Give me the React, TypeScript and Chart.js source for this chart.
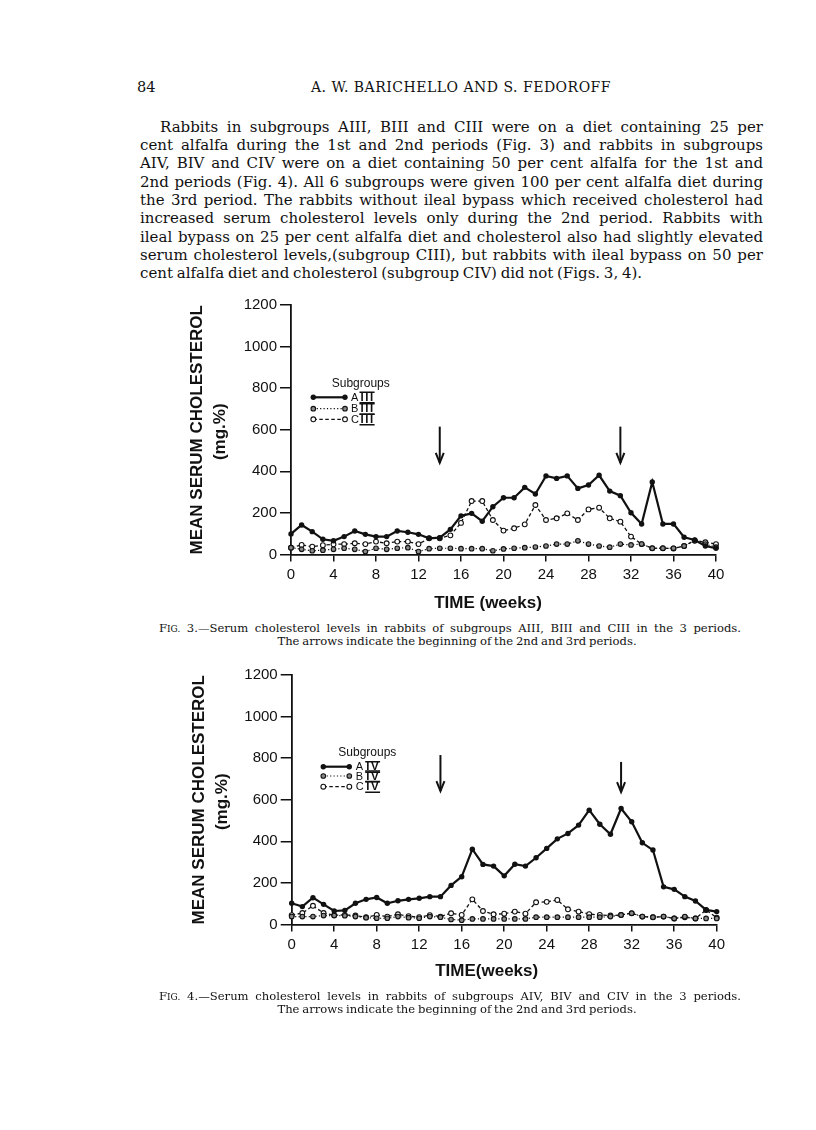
import React, { useEffect, useRef } from "react";
import { Chart, registerables } from "chart.js";

Chart.register(...registerables);

// ---------- DATA ----------
const weeks = [0, 1, 2, 3, 4, 5, 6, 7, 8, 9, 10, 11, 12, 13, 14, 15, 16, 17, 18, 19, 20, 21, 22, 23, 24, 25, 26, 27, 28, 29, 30, 31, 32, 33, 34, 35, 36, 37, 38, 39, 40];

const fig3A = [99, 142, 110, 73, 66, 86, 113, 97, 86, 86, 113, 107, 97, 78, 81, 121, 186, 198, 160, 230, 273, 273, 323, 291, 378, 366, 378, 318, 334, 381, 305, 283, 201, 147, 349, 147, 147, 83, 70, 41, 30];
const fig3B = [33, 25, 18, 21, 25, 30, 25, 14, 30, 25, 30, 33, 14, 28, 30, 30, 28, 28, 28, 18, 27, 30, 33, 36, 41, 50, 50, 66, 50, 41, 35, 50, 46, 50, 30, 30, 30, 41, 66, 50, 35];
const fig3C = [33, 46, 38, 45, 49, 50, 54, 50, 62, 54, 62, 62, 50, 78, 78, 92, 152, 257, 257, 166, 115, 126, 145, 238, 166, 174, 198, 166, 217, 225, 174, 158, 86, 50, 30, 30, 29, 41, 68, 59, 50];

const fig4A = [102, 86, 129, 97, 65, 68, 102, 121, 130, 102, 114, 121, 126, 134, 134, 188, 230, 362, 289, 281, 234, 290, 281, 321, 366, 412, 438, 478, 550, 482, 434, 558, 494, 393, 358, 181, 169, 134, 113, 70, 62];
const fig4B = [38, 38, 38, 43, 43, 42, 38, 33, 30, 30, 38, 33, 30, 38, 35, 24, 21, 27, 27, 27, 27, 27, 27, 35, 35, 35, 35, 35, 35, 35, 38, 46, 54, 38, 35, 38, 29, 38, 29, 29, 29];
const fig4C = [45, 55, 90, 55, 45, 46, 43, 35, 46, 38, 49, 40, 35, 45, 38, 54, 46, 121, 65, 49, 52, 62, 52, 107, 109, 118, 73, 62, 50, 46, 43, 46, 54, 38, 35, 38, 29, 35, 29, 70, 33];

const arrowWeeks = [14, 31];
const fig3ArrowTop = [615, 615];
const fig3ArrowBottom = [441, 441];
const fig4ArrowTop = [815, 782];
const fig4ArrowBottom = [642, 637];

const yMin = 0;
const yMax = 1200;
const yStep = 200;
const xMin = 0;
const xMax = 40;
const xStep = 4;

const seriesLetters = ["A", "B", "C"];

const paragraphLines = [
  "Rabbits in subgroups AIII, BIII and CIII were on a diet containing 25 per",
  "cent alfalfa during the 1st and 2nd periods (Fig. 3) and rabbits in subgroups",
  "AIV, BIV and CIV were on a diet containing 50 per cent alfalfa for the 1st and",
  "2nd periods (Fig. 4).   All 6 subgroups were given 100 per cent alfalfa diet during",
  "the 3rd period.   The rabbits without ileal bypass which received cholesterol had",
  "increased serum cholesterol levels only during the 2nd period.   Rabbits with",
  "ileal bypass on 25 per cent alfalfa diet and cholesterol also had slightly elevated",
  "serum cholesterol levels,(subgroup CIII), but rabbits with ileal bypass on 50 per",
  "cent alfalfa diet and cholesterol (subgroup CIV) did not (Figs. 3, 4).",
];

const SANS = '"Liberation Sans", Arial, sans-serif';
const SERIF = '"DejaVu Serif", serif';
const INK = "#111";

type Layout = {
  canvasLeft: number;
  canvasTop: number;
  width: number;
  height: number;
  areaLeft: number;
  areaRight: number;
  areaTop: number;
  areaBottom: number;
  yTitleDx: number;
  yUnitDx: number;
  xTitle: string;
  xTitleDx: number;
  xTitleDy: number;
  legend: {
    textDx: number;
    textDy: number;
    lineX1: number;
    lineX2: number;
    rowsDy: number[];
    letterDx: number;
    numeralDx: number;
  };
};

const styles = [
  { lw: 2.2, dash: [] as number[], r: 2.7, fill: INK, stroke: false },
  { lw: 1.2, dash: [1.2, 2.2], r: 2.3, fill: "#8a8a8a", stroke: true },
  { lw: 1.3, dash: [3.5, 2.5], r: 2.4, fill: "#fff", stroke: true },
];

function drawNumeral(ctx: CanvasRenderingContext2D, text: string, x: number, y: number) {
  ctx.save();
  ctx.font = `bold 11.5px ${SANS}`;
  (ctx as any).letterSpacing = "1.5px";
  ctx.textAlign = "left";
  ctx.textBaseline = "middle";
  ctx.fillStyle = INK;
  ctx.fillText(text, x, y + 0.5);
  const w = ctx.measureText(text).width;
  ctx.strokeStyle = INK;
  ctx.lineWidth = 1.6;
  ctx.beginPath();
  ctx.moveTo(x - 1, y - 5);
  ctx.lineTo(x + w, y - 5);
  ctx.moveTo(x - 1, y + 5.5);
  ctx.lineTo(x + w, y + 5.5);
  ctx.stroke();
  ctx.restore();
}

function makeDecor(layout: Layout, numeral: string, aTop: number[], aBottom: number[]) {
  return {
    id: "decor",
    afterDraw(chart: any) {
      const ctx: CanvasRenderingContext2D = chart.ctx;
      const ca = chart.chartArea;
      const xs = chart.scales.x;
      const ys = chart.scales.y;
      ctx.save();
      ctx.fillStyle = INK;
      ctx.strokeStyle = INK;

      // y-axis title
      const cy = (ca.top + ca.bottom) / 2;
      ctx.save();
      ctx.translate(ca.left + layout.yTitleDx, cy);
      ctx.rotate(-Math.PI / 2);
      ctx.font = `bold 17px ${SANS}`;
      ctx.textAlign = "center";
      ctx.textBaseline = "middle";
      ctx.fillText("MEAN SERUM CHOLESTEROL", 0, 0);
      ctx.restore();
      ctx.save();
      ctx.translate(ca.left + layout.yUnitDx, cy + 2);
      ctx.rotate(-Math.PI / 2);
      ctx.font = `bold 17px ${SANS}`;
      ctx.textAlign = "center";
      ctx.textBaseline = "middle";
      ctx.fillText("(mg.%)", 0, 0);
      ctx.restore();

      // x-axis title
      ctx.font = `bold 17px ${SANS}`;
      ctx.textAlign = "center";
      ctx.textBaseline = "middle";
      ctx.fillText(layout.xTitle, ca.left + layout.xTitleDx, ca.bottom + layout.xTitleDy);

      // arrows
      arrowWeeks.forEach((w, i) => {
        const x = xs.getPixelForValue(w);
        const y1 = ys.getPixelForValue(aTop[i]);
        const y2 = ys.getPixelForValue(aBottom[i]);
        ctx.lineWidth = 2;
        ctx.beginPath();
        ctx.moveTo(x, y1);
        ctx.lineTo(x, y2);
        ctx.stroke();
        ctx.beginPath();
        ctx.moveTo(x - 4, y2 - 10);
        ctx.lineTo(x, y2);
        ctx.lineTo(x + 4, y2 - 10);
        ctx.stroke();
      });

      // legend
      const lg = layout.legend;
      ctx.font = `12px ${SANS}`;
      ctx.textAlign = "left";
      ctx.textBaseline = "middle";
      ctx.fillText("Subgroups", ca.left + lg.textDx, ca.top + lg.textDy);
      seriesLetters.forEach((letter, i) => {
        const st = styles[i];
        const y = ca.top + lg.rowsDy[i];
        const x1 = ca.left + lg.lineX1;
        const x2 = ca.left + lg.lineX2;
        ctx.save();
        ctx.lineWidth = st.lw;
        ctx.setLineDash(st.dash);
        ctx.beginPath();
        ctx.moveTo(x1, y);
        ctx.lineTo(x2, y);
        ctx.stroke();
        ctx.setLineDash([]);
        [x1, x2].forEach((px) => {
          ctx.beginPath();
          ctx.arc(px, y, st.r, 0, Math.PI * 2);
          ctx.fillStyle = st.fill;
          ctx.fill();
          if (st.stroke) {
            ctx.lineWidth = 1.1;
            ctx.stroke();
          }
        });
        ctx.restore();
        ctx.font = `11px ${SANS}`;
        ctx.fillStyle = INK;
        ctx.textAlign = "left";
        ctx.textBaseline = "middle";
        ctx.fillText(letter, ca.left + lg.letterDx, y + 0.5);
        drawNumeral(ctx, numeral, ca.left + lg.numeralDx, y);
      });
      ctx.restore();
    },
  };
}

function SerumChart(props: {
  a: number[];
  b: number[];
  c: number[];
  numeral: string;
  arrowTop: number[];
  arrowBottom: number[];
  layout: Layout;
}) {
  const ref = useRef<HTMLCanvasElement | null>(null);
  const { a, b, c, numeral, arrowTop, arrowBottom, layout } = props;

  useEffect(() => {
    if (!ref.current) return;
    const toPts = (arr: number[]) => arr.map((v, i) => ({ x: weeks[i], y: v }));
    const sets = [a, b, c].map((arr, i) => {
      const st = styles[i];
      return {
        label: seriesLetters[i] + numeral,
        data: toPts(arr),
        borderColor: INK,
        borderWidth: st.lw,
        borderDash: st.dash,
        pointRadius: st.r,
        pointHoverRadius: st.r,
        pointBackgroundColor: st.fill,
        pointBorderColor: INK,
        pointBorderWidth: st.stroke ? 1.1 : 0,
        tension: 0,
        clip: false as any,
        fill: false,
      };
    });
    const tickFont = { family: SANS, size: 15 };
    const chart = new Chart(ref.current, {
      type: "line",
      data: { datasets: sets as any },
      options: {
        responsive: false,
        animation: false,
        devicePixelRatio: 1,
        events: [],
        layout: {
          padding: {
            left: 0,
            top: layout.areaTop,
            right: layout.width - layout.areaRight,
            bottom: 0,
          },
        },
        plugins: {
          legend: { display: false },
          tooltip: { enabled: false },
        },
        scales: {
          x: {
            type: "linear",
            min: xMin,
            max: xMax,
            offset: false,
            ticks: {
              stepSize: xStep,
              color: INK,
              font: tickFont,
              padding: 4,
              maxRotation: 0,
              autoSkip: false,
              callback: (v: any) => String(v),
            },
            grid: {
              drawOnChartArea: false,
              drawTicks: true,
              tickLength: 7,
              color: INK,
              lineWidth: 1.5,
            },
            border: { display: true, color: INK, width: 1.8 },
            afterFit: (s: any) => {
              s.height = layout.height - layout.areaBottom;
            },
          } as any,
          y: {
            type: "linear",
            min: yMin,
            max: yMax,
            ticks: {
              stepSize: yStep,
              color: INK,
              font: tickFont,
              padding: 3,
              callback: (v: any) => String(v),
            },
            grid: {
              drawOnChartArea: false,
              drawTicks: true,
              tickLength: 11,
              color: INK,
              lineWidth: 1.5,
            },
            border: { display: true, color: INK, width: 1.8 },
            afterFit: (s: any) => {
              s.width = layout.areaLeft;
            },
          } as any,
        },
      },
      plugins: [makeDecor(layout, numeral, arrowTop, arrowBottom)],
    });
    return () => chart.destroy();
  }, []);

  return (
    <canvas
      ref={ref}
      width={layout.width}
      height={layout.height}
      style={{
        position: "absolute",
        left: layout.canvasLeft,
        top: layout.canvasTop,
        width: layout.width,
        height: layout.height,
      }}
    />
  );
}

const layout3: Layout = {
  canvasLeft: 170,
  canvasTop: 290,
  width: 560,
  height: 330,
  areaLeft: 121,
  areaRight: 546,
  areaTop: 15,
  areaBottom: 264.5,
  yTitleDx: -94,
  yUnitDx: -71,
  xTitle: "TIME (weeks)",
  xTitleDx: 197,
  xTitleDy: 48.5,
  legend: {
    textDx: 40.7,
    textDy: 78.3,
    lineX1: 22.3,
    lineX2: 54,
    rowsDy: [92.3, 103.7, 114.3],
    letterDx: 60,
    numeralDx: 69.5,
  },
};

const layout4: Layout = {
  canvasLeft: 170,
  canvasTop: 660,
  width: 560,
  height: 330,
  areaLeft: 121.7,
  areaRight: 546.7,
  areaTop: 15,
  areaBottom: 264.5,
  yTitleDx: -92.7,
  yUnitDx: -69.7,
  xTitle: "TIME(weeks)",
  xTitleDx: 195,
  xTitleDy: 46.5,
  legend: {
    textDx: 46.6,
    textDy: 77.7,
    lineX1: 31.6,
    lineX2: 57.6,
    rowsDy: [91.7, 101, 111.7],
    letterDx: 64,
    numeralDx: 74.5,
  },
};

function Caption(props: { top: number; num: string; line1: string; line2: string }) {
  return (
    <div
      style={{
        position: "absolute",
        left: 159,
        top: props.top,
        width: 582,
        fontFamily: SERIF,
        fontSize: 11.6,
        lineHeight: "12.5px",
        wordSpacing: "-0.8px",
        color: INK,
      }}
    >
      <div style={{ textAlign: "justify", textAlignLast: "justify", whiteSpace: "nowrap" } as any}>
        F<span style={{ fontSize: 9 }}>IG.</span> {props.num}.—{props.line1}
      </div>
      <div style={{ textAlign: "center", whiteSpace: "nowrap", paddingLeft: 14 }}>{props.line2}</div>
    </div>
  );
}

export default function App() {
  return (
    <div
      style={{
        position: "absolute",
        left: 0,
        top: 0,
        width: 816,
        height: 1130,
        overflow: "hidden",
        background: "#fff",
      }}
    >
      <div
        style={{
          position: "absolute",
          left: 137,
          top: 78,
          fontFamily: SERIF,
          fontSize: 14.5,
          lineHeight: "18px",
          color: INK,
        }}
      >
        84
      </div>
      <div
        style={{
          position: "absolute",
          left: 261,
          top: 78,
          width: 400,
          textAlign: "center",
          fontFamily: SERIF,
          fontSize: 14,
          letterSpacing: "0.5px",
          lineHeight: "18px",
          color: INK,
          whiteSpace: "nowrap",
        }}
      >
        A. W. BARICHELLO AND S. FEDOROFF
      </div>
      <div
        style={{
          position: "absolute",
          left: 140,
          top: 117.85,
          width: 623,
          fontFamily: SERIF,
          fontSize: 15,
          lineHeight: "18.3px",
          wordSpacing: "-1px",
          color: INK,
        }}
      >
        {paragraphLines.map((ln, i) => {
          const last = i === paragraphLines.length - 1;
          return (
            <div
              key={i}
              style={
                {
                  whiteSpace: "nowrap",
                  textAlign: last ? "left" : "justify",
                  textAlignLast: last ? "left" : "justify",
                  textIndent: i === 0 ? 20 : 0,
                } as any
              }
            >
              {ln}
            </div>
          );
        })}
      </div>

      <SerumChart
        a={fig3A}
        b={fig3B}
        c={fig3C}
        numeral="III"
        arrowTop={fig3ArrowTop}
        arrowBottom={fig3ArrowBottom}
        layout={layout3}
      />
      <Caption
        top={621.75}
        num="3"
        line1="Serum cholesterol levels in rabbits of subgroups AIII, BIII and CIII in the 3 periods."
        line2="The arrows indicate the beginning of the 2nd and 3rd periods."
      />

      <SerumChart
        a={fig4A}
        b={fig4B}
        c={fig4C}
        numeral="IV"
        arrowTop={fig4ArrowTop}
        arrowBottom={fig4ArrowBottom}
        layout={layout4}
      />
      <Caption
        top={989.75}
        num="4"
        line1="Serum cholesterol levels in rabbits of subgroups AIV, BIV and CIV in the 3 periods."
        line2="The arrows indicate the beginning of the 2nd and 3rd periods."
      />
    </div>
  );
}
